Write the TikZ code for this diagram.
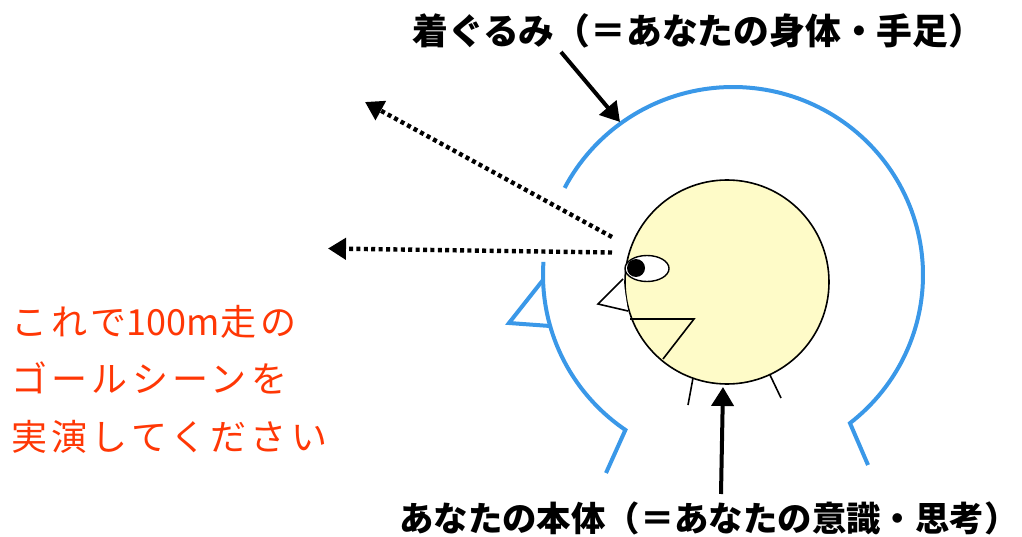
\documentclass[tikz,border=0pt]{standalone}
\usepackage{fontspec}
\usetikzlibrary{arrows.meta,shapes.geometric}
\newfontfamily\jpfont{Noto Sans CJK JP}
\definecolor{suitblue}{RGB}{58,152,232}
\definecolor{headfill}{RGB}{254,251,200}
\definecolor{notered}{RGB}{255,55,5}
\tikzset{
  suit/.style={draw=suitblue, line width=4pt, line join=miter, line cap=butt},
  thinline/.style={draw=black, line width=1.6pt, line join=miter},
  solidarrow/.style={draw=black, line width=4pt, -{Triangle[length=19pt,width=22pt]}},
  dotarrow/.style={draw=black, line width=4.4pt, dash pattern=on 4pt off 3.4pt,
    -{Triangle[length=18pt,width=21pt]}},
  caption/.style={font=\jpfont\bfseries\fontsize{35.8}{40}\selectfont, inner sep=0pt,
    text=black, text height=30pt, text depth=5pt, anchor=base west},
}
\begin{document}
\begin{tikzpicture}[x=1pt,y=-1pt]
\useasboundingbox (0,0) rectangle (1022,537);

% costume outline: upper arc with the right leg opening
\draw[suit] plot[domain=207.6:412, samples=120] ({733+190*cos(\x)},{275+188*sin(\x)}) -- (868,465);
% costume outline: lower left arc with the left leg opening
\draw[suit] (606,473) -- plot[domain=124.5:184, samples=60] ({733+190*cos(\x)},{275+188*sin(\x)});
% costume beak
\draw[suit] (543,280) -- (509,323) -- (550,326);

% the wearer inside
\node[circle, draw=black, line width=1.6pt, fill=headfill, minimum size=204pt, inner sep=0pt] (head) at (727,282) {};
\node[ellipse, draw=black, line width=1.4pt, fill=white, minimum width=44pt, minimum height=26pt, inner sep=0pt] (eye) at (647,268.5) {};
\node[circle, fill=black, minimum size=18pt, inner sep=0pt] (pupil) at (636,268) {};
\draw[thinline, fill=white] (623,279) -- (598,304) -- (628,311);
\draw[thinline] (630,319) -- (694,319) -- (663,359);
\draw[thinline] (693,378) -- (688,405);
\draw[thinline] (770,375) -- (781,398);

% gaze lines
\coordinate (gazeA) at (612,237);
\coordinate (gazeAend) at (365,102);
\coordinate (gazeB) at (612,252.5);
\coordinate (gazeBend) at (328,248.5);
\draw[dotarrow] (gazeA) -- (gazeAend);
\draw[dotarrow] (gazeB) -- (gazeBend);

% labels
\node[caption] (suitlabel) at (412,44.5) {着ぐるみ（＝あなたの身体・手足）};
\node[caption, font=\jpfont\bfseries\fontsize{34.4}{40}\selectfont] (selflabel) at (399,531.5) {あなたの本体（＝あなたの意識・思考）};
\coordinate (suitfrom) at (561,52);
\coordinate (suitpt) at (620,122);
\coordinate (selffrom) at (721,494);
\coordinate (selfpt) at (723,387);
\draw[solidarrow] (suitfrom) -- (suitpt);
\draw[solidarrow] (selffrom) -- (selfpt);

% instruction text
\node[anchor=west, align=left, inner sep=0pt, text=notered,
  font=\jpfont\fontsize{36}{57.5}\selectfont\addfontfeatures{LetterSpace=12}] (task) at (11,379)
  {これで{\addfontfeatures{LetterSpace=0}100m}走の\\ゴールシーンを\\実演してください};
\end{tikzpicture}
\end{document}
